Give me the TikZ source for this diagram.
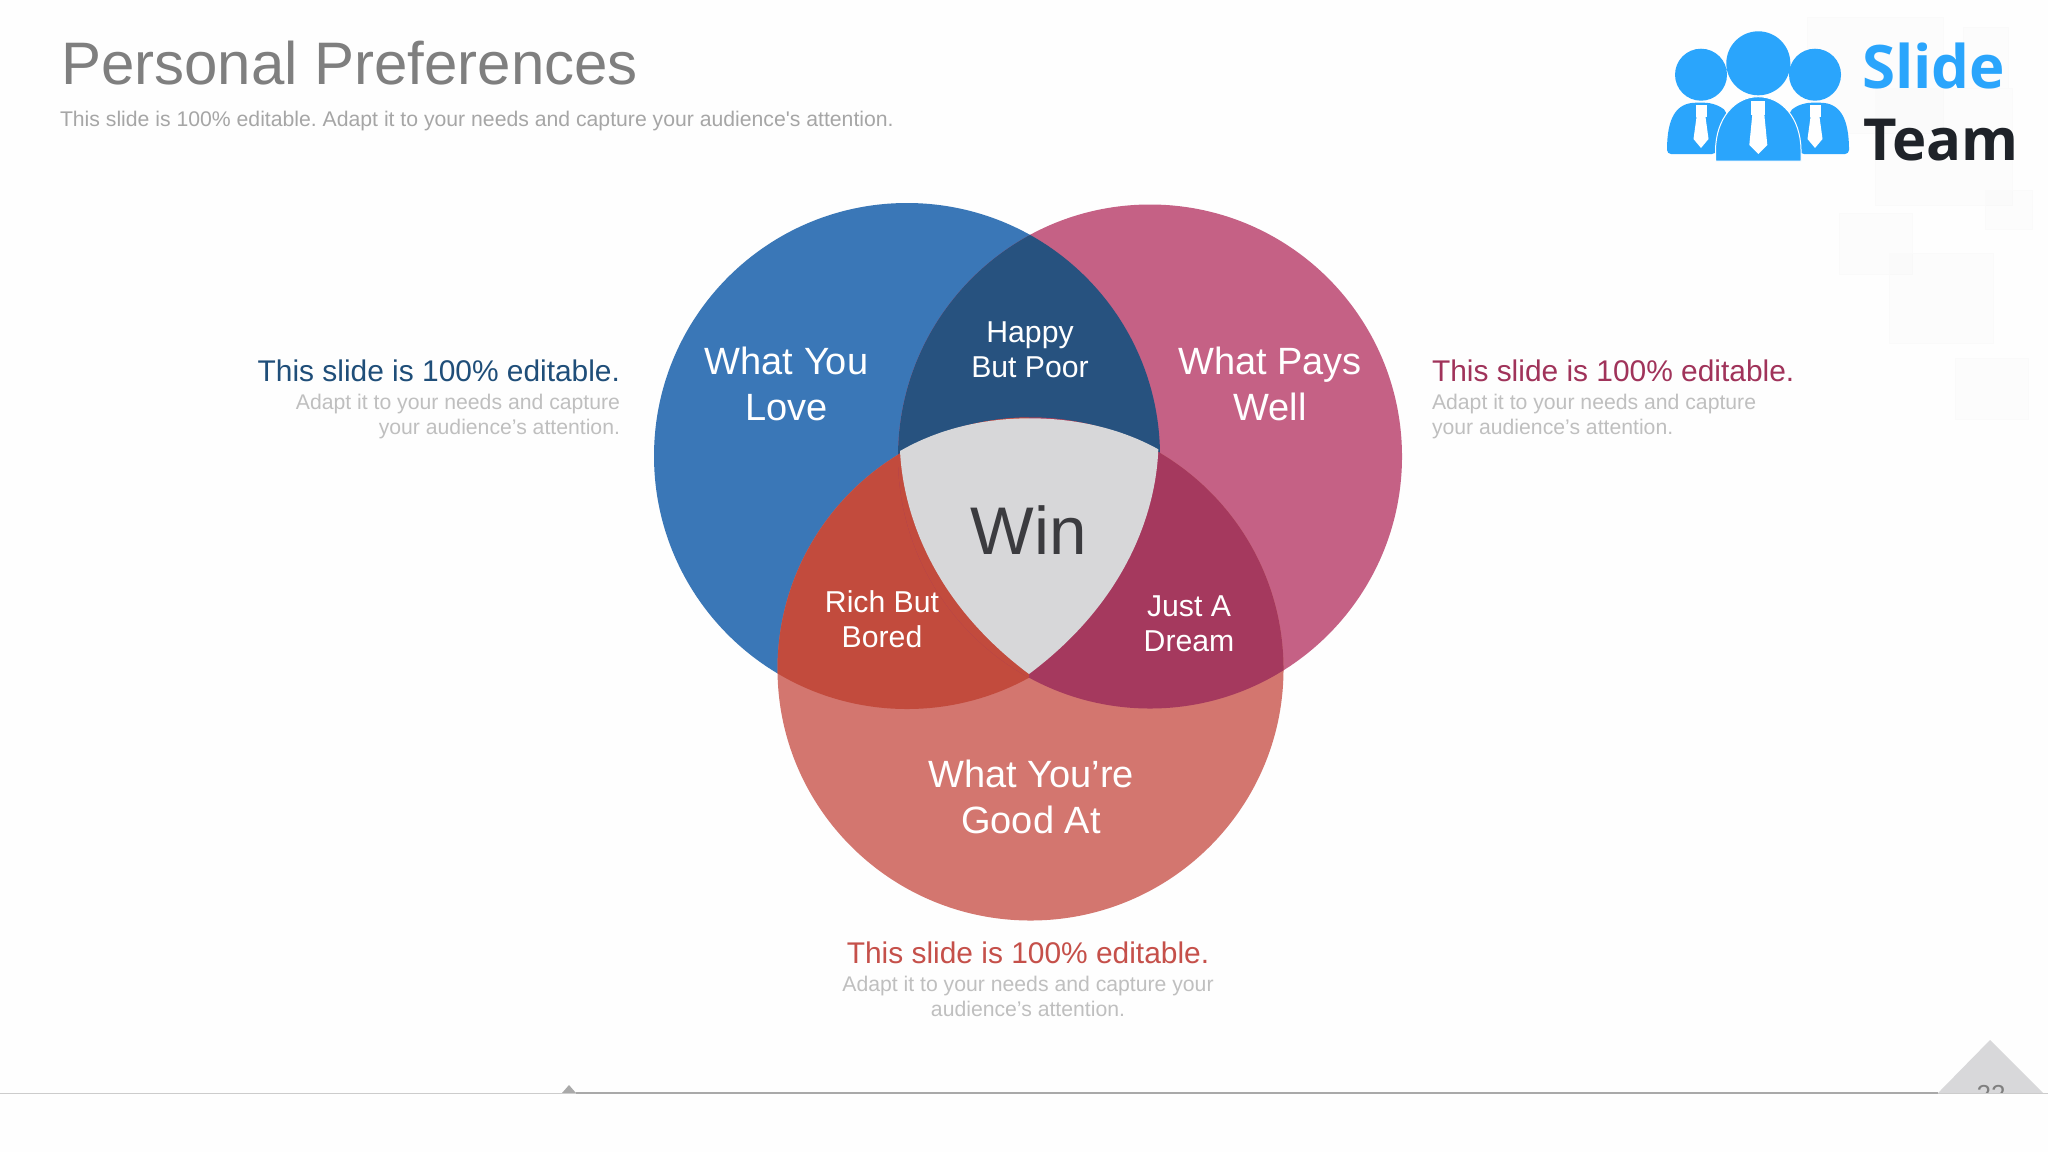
\documentclass[tikz,border=0pt]{standalone}
\usepackage{fontspec}
\setmainfont{Liberation Sans}[Ligatures=TeXOff]
\newfontfamily\logofont{Open Sans}
\definecolor{paperwhite}{RGB}{254, 254, 254}
\definecolor{loveblue}{RGB}{58, 119, 183}
\definecolor{payspink}{RGB}{197, 97, 133}
\definecolor{goodsalmon}{RGB}{211, 118, 111}
\definecolor{happynavy}{RGB}{39, 82, 127}
\definecolor{richred}{RGB}{194, 75, 61}
\definecolor{dreamplum}{RGB}{165, 57, 94}
\definecolor{wingray}{RGB}{215, 215, 217}
\definecolor{wintext}{RGB}{59, 59, 63}
\definecolor{titlegray}{RGB}{127, 127, 127}
\definecolor{subgray}{RGB}{166, 166, 166}
\definecolor{notegray}{RGB}{191, 191, 191}
\definecolor{headblue}{RGB}{31, 78, 121}
\definecolor{headplum}{RGB}{160, 51, 90}
\definecolor{headred}{RGB}{197, 80, 74}
\definecolor{logoblue}{RGB}{42, 165, 252}
\definecolor{logodark}{RGB}{31, 35, 41}
\definecolor{linegray}{RGB}{169, 169, 169}
\definecolor{cornergray}{RGB}{216, 216, 218}
\newcommand{\loveshape}{(907,456) circle (253)}
\newcommand{\paysshape}{(1150,456.5) circle (252)}
\newcommand{\goodshape}{(1030.5,669) ellipse [x radius=253, y radius=251.5]}
\tikzset{
  biglabel/.style={anchor=base, align=center, text=white, font=\fontsize{19}{22.9}\selectfont},
  smalllabel/.style={anchor=base, align=center, text=white, font=\fontsize{15.1}{17.3}\selectfont},
  headtext/.style={anchor=base, font=\fontsize{14.95}{18}\selectfont},
  notetext/.style={anchor=base, text=notegray, font=\fontsize{10.6}{12.6}\selectfont},
  decosquare/.style={draw=black!2, fill=black, fill opacity=0.006},
  logotie/.style={fill=white}
}
\begin{document}
\begin{tikzpicture}[x=0.5pt, y=-0.5pt, inner sep=0pt, outer sep=0pt]
  \useasboundingbox[fill=paperwhite] (0,0) rectangle (2048,1152);

  % faint squares behind the logo
  \foreach \xa/\ya/\xb/\yb in {1807/17/1943/133, 1963/27/2008/88, 1875/88/2012/205, 1985/190/2032/229, 1839/213/1912/274, 1889/253/1993/343, 1955/358/2028/419}
    \draw[decosquare] (\xa,\ya) rectangle (\xb,\yb);

  % title
  \node[anchor=base west, text=titlegray, font=\fontsize{30}{36}\selectfont] (title) at (61,84.5) {Personal Preferences};
  \node[anchor=base west, text=subgray, font=\fontsize{10.6}{14}\selectfont\frenchspacing] (subtitle) at (60,126) {This slide is 100\% editable. Adapt it to your needs and capture your audience's attention.};

  % logo
  \fill[logoblue] (1701,74.7) circle (26) (1815,74.7) circle (26) (1758.3,63.3) circle (32);
  \fill[logoblue, rounded corners=2pt] (1667,154) .. controls (1667,118) and (1676,102.7) .. (1700,102.7) .. controls (1712,102.7) and (1720,106) .. (1727,112) -- (1716,154) -- cycle;
  \fill[logoblue, rounded corners=2pt] (1849,154) .. controls (1849,118) and (1840,102.7) .. (1816,102.7) .. controls (1804,102.7) and (1796,106) .. (1789,112) -- (1800,154) -- cycle;
  \filldraw[logoblue, draw=white, line width=0.5pt] (1715.5,161) -- (1715.5,150) .. controls (1716,118) and (1735,96.7) .. (1758,96.7) .. controls (1782,96.7) and (1800.5,118) .. (1801,150) -- (1801,161) -- cycle;
  \foreach \tx/\tt/\tk/\tb/\tw in {1701/105/117/148/7.5, 1815/105/117/148/7.5, 1758.3/101/114.5/154/9} {
    \fill[logotie] (\tx-\tw+2,\tt) rectangle (\tx+\tw-2,\tk);
    \fill[logotie] (\tx-\tw+3,\tk) -- (\tx+\tw-3,\tk) -- (\tx+\tw,\tb-9) -- (\tx,\tb) -- (\tx-\tw,\tb-9) -- cycle;
  }
  \node[anchor=base west, text=logoblue, font=\logofont\bfseries\fontsize{30}{32}\selectfont] (slide) at (1862,88) {Slide};
  \node[anchor=base west, text=logodark, font=\logofont\bfseries\fontsize{29}{32}\selectfont] (team) at (1863,160.5) {Team};

  % venn regions
  \fill[loveblue] \loveshape;
  \fill[payspink] \paysshape;
  \fill[goodsalmon] \goodshape;
  \begin{scope}
    \clip \loveshape;
    \fill[happynavy] \paysshape;
    \fill[richred] \goodshape;
  \end{scope}
  \begin{scope}
    \clip \paysshape;
    \fill[dreamplum] \goodshape;
    \clip \loveshape;
    \clip (700,300) rectangle (1029,800);
    \fill[richred] \goodshape;
  \end{scope}
  \fill[wingray] (900,451) .. controls (940,428) and (985,418.3) .. (1030,418.3) .. controls (1075,418.3) and (1120,428) .. (1158.3,449.3) .. controls (1156,510) and (1128,600) .. (1029,674) .. controls (930,600) and (903,510) .. (900,451) -- cycle;

  % venn labels
  \node[biglabel] (love) at (786.5,420.5) {What You\\Love};
  \node[biglabel] (pays) at (1270,420.5) {What Pays\\Well};
  \node[biglabel] (good) at (1031,833.5) {What You’re\\Good At};
  \node[smalllabel] (happy) at (1030,377) {Happy\\But Poor};
  \node[smalllabel] (rich) at (882,647.5) {Rich But\\Bored};
  \node[smalllabel] (dream) at (1189,651.5) {Just A\\Dream};
  \node[anchor=base, text=wintext, font=\fontsize{33.7}{36}\selectfont] (win) at (1028.5,554.5) {Win};

  % side notes
  \node[headtext, anchor=base east, text=headblue] (lefthead) at (620,381) {This slide is 100\% editable.};
  \node[notetext, anchor=base east, align=right] (leftnote) at (620,434.3) {Adapt it to your needs and capture\\your audience’s attention.};
  \node[headtext, anchor=base west, text=headplum] (righthead) at (1432,381) {This slide is 100\% editable.};
  \node[notetext, anchor=base west, align=left] (rightnote) at (1432,434.3) {Adapt it to your needs and capture\\your audience’s attention.};
  \node[headtext, text=headred] (bottomhead) at (1028,963) {This slide is 100\% editable.};
  \node[notetext, align=center] (bottomnote) at (1028,1016.5) {Adapt it to your needs and capture your\\audience’s attention.};

  % footer
  \fill[cornergray] (1990,1040) -- (2043,1093) -- (1938,1093) -- cycle;
  \begin{scope}
    \clip (1960,1050) rectangle (2020,1093);
    \node[anchor=base, text=titlegray, font=\fontsize{13}{14}\selectfont] (pagenum) at (1991,1103) {22};
  \end{scope}
  \fill[linegray] (569,1085) -- (576,1093) -- (562,1093) -- cycle;
  \draw[black!20, line width=0.5pt] (0,1093.5) -- (2048,1093.5);
  \draw[linegray, line width=1pt] (576,1093) -- (1938,1093);
\end{tikzpicture}
\end{document}
